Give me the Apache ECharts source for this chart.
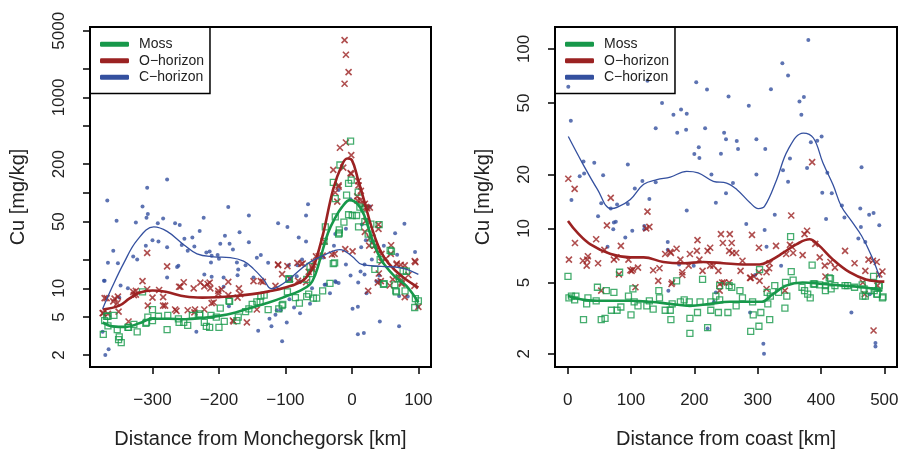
<!DOCTYPE html>
<html>
<head>
<meta charset="utf-8">
<script src="https://cdn.jsdelivr.net/npm/echarts@6/dist/echarts.min.js"></script>
<style>
  html, body { margin: 0; padding: 0; background: #fff; }
  #mainChart { width: 906px; height: 454px; }
</style>
</head>
<body>
<div id="mainChart"></div>
<script>
// tick values
var xTicksL = [-300, -200, -100, 0, 100];
var xTicksR = [0, 100, 200, 300, 400, 500];
var yTicksL = [2, 5, 10, 20, 50, 100, 200, 500, 1000, 2000, 5000];
var yLabelsL = [2, 5, 10, 50, 200, 1000, 5000];
var yTicksR = [2, 5, 10, 20, 50, 100];

// left panel: distance from Monchegorsk [km], Cu [mg/kg]
var cLeft = [[-373,12],[-375,3.5],[-371,2.0],[-366,2.3],[-372,12],[-367,18.6],[-368,83],[-359,24.7],[-354,51],[-352,18.3],[-350,8],[-348,10.7],[-337,10],[-329,21.5],[-325,49],[-323,20],[-315,72],[-310,28],[-309,55],[-308,113],[-307,60],[-300,32],[-292,48],[-291,31],[-284,54],[-278,138],[-278,27],[-278,13],[-266,48],[-263,16.7],[-261,17.2],[-259,46],[-256,28.5],[-252,33],[-247,24.7],[-240,34],[-237,27.4],[-234,3.5],[-229,40],[-223,55],[-222,14],[-219,23.7],[-214,24.3],[-212,18.7],[-211,22],[-211,13.2],[-202,22.4],[-200,20.4],[-198,29.4],[-193,13],[-193,10.4],[-191,35.6],[-186,71],[-185,6.5],[-184,29.4],[-179,25.5],[-173,18.7],[-172,13.7],[-171,15.8],[-169,38.6],[-160,17.5],[-155,58],[-155,30.4],[-148,13],[-143,20.9],[-141,3.6],[-137,22.4],[-126,18.5],[-124,4.8],[-121,4.0],[-115,5.3],[-113,5.9],[-111,48],[-107,5.9],[-105,2.8],[-98,4.4],[-97,44],[-95,17.5],[-94,7.7],[-93,12.5],[-87,6.3],[-83,13.4],[-82,17.5],[-80,34],[-78,5.5],[-77,11.8],[-75,20],[-69,58],[-69,31],[-66,76],[-63,6.9],[-60,10],[-43,21],[-41,10.9],[-39,11],[-33,8.9],[-27,28],[-25,37],[-25,11.9],[-24,11.6],[-20,107],[-20,11.4],[-9,42],[-9,17.8],[-2,86],[-2,13.6],[1,6.1],[9,6.4],[9,3.3],[9.5,11.5],[13,15],[14,27],[15,46.6],[18,3.4],[19,14],[19,17.8],[21,32],[22,8.9],[27,72],[30,20],[31,31],[37,11.9],[41,13.6],[42,12],[42,4.5],[48,28],[65,37.7],[68,22.5],[71,4.0],[71,8.3],[79,47.5],[84,8.2],[95,24],[99,6.4]];
var oLeft = [[-375,5.5],[-374,5.5],[-372,7.9],[-369,7.9],[-367,5.4],[-359,7.3],[-357,7.8],[-353,7.0],[-352,8.2],[-351,5.7],[-336,4.5],[-329,9.2],[-328,8.5],[-325,8.6],[-325,9.4],[-315,11.9],[-308,23.5],[-308,9.8],[-307,6.6],[-300,8],[-290,9.6],[-284,8.1],[-284,6.6],[-281,6.6],[-278,17],[-266,6.0],[-264,5.8],[-260,10.4],[-258,10.4],[-253,11.6],[-247,5.9],[-238,10],[-237,5.6],[-236,6.0],[-228,11.5],[-222,10.5],[-222,6.0],[-217,11.1],[-214,11.5],[-213,10],[-211,7.0],[-208,7.1],[-201,9.4],[-201,8.8],[-196,9.8],[-186,11.7],[-186,8.5],[-179,4.6],[-178,4.5],[-172,8.0],[-170,10],[-168,8.7],[-158,4.4],[-148,11.9],[-143,6.0],[-137,11.9],[-134,11.7],[-115,10.6],[-111,17.8],[-111,17.5],[-105,14.1],[-97,17.1],[-93,12.5],[-82,18.5],[-81,12],[-76,18],[-74,18.2],[-69,11.6],[-65,14.9],[-60,16.7],[-59,15.8],[-57,18.8],[-54,21.6],[-50,21.7],[-44,22],[-41,31],[-30,22.6],[-28,174],[-26,23],[-25,101],[-22,81],[-20,116],[-20,120],[-18,297],[-13,184],[-11,3990],[-11,1390],[-10,25.8],[-9,2800],[-9,337],[-5,1840],[-2,161],[-1,249],[-1,158],[1,24.4],[8,92],[8.5,83],[9.5,133],[10,120],[13,84],[13.5,105],[17.5,75],[19.5,77],[19.5,39],[21,51],[21.5,71],[23,69],[24.5,9.4],[26,28],[27,70],[27,33.6],[34.5,28],[37.5,25.3],[39,11.5],[40,46.5],[40,42],[40.5,14.3],[43.5,11.9],[44.5,23],[44.5,19],[51,20.4],[57,10.7],[58.5,23],[59,28.3],[61.5,12.4],[67,17.8],[67.5,18.2],[70.5,13.1],[73.5,17.6],[74.5,11.5],[75,11.1],[79.5,17.4],[79.5,8.1],[85,13.8],[94,10.6],[94.5,19.3],[95.5,18.8],[100,6.4]];
var mossLeft = [[-374,3.3],[-372,4.6],[-369,5.1],[-367,5.1],[-367,4.05],[-358,5.2],[-353,3.7],[-351,2.9],[-350,3.1],[-347,2.7],[-337,3.9],[-336,3.9],[-328,4.2],[-323,3.5],[-315,9.2],[-310,4.3],[-309,4.4],[-307,5.0],[-300,6.0],[-300,4.6],[-291,5.1],[-278,3.7],[-277,5.2],[-261,4.8],[-260,4.4],[-253,4.4],[-247,4.1],[-240,5.2],[-229,5.2],[-229,5.4],[-222,4.4],[-219,4.0],[-214,3.9],[-212,5.2],[-204,5.0],[-200,3.9],[-198,6.2],[-192,4.5],[-185,7.4],[-184,7.3],[-173,4.6],[-171,5.0],[-160,5.7],[-155,6.1],[-150,6.8],[-143,7.2],[-138,7.2],[-137,8.3],[-132,8.5],[-126,6.0],[-110,6.1],[-105,6.6],[-104,6.8],[-97,9.2],[-95,12.6],[-94,12.4],[-85,8],[-79,7],[-68,8.2],[-68,12.4],[-65,8.7],[-63,17],[-62,14.3],[-58,7.9],[-53,7.9],[-44,9.4],[-42,31],[-40,44],[-33,11.3],[-28,18.2],[-28,129],[-26,18.5],[-25,87],[-25,56],[-20,37],[-19,41],[-19,38],[-18,196],[-12,49.5],[-8,95],[-5,126],[-5,59],[-2,348],[-1,136],[0.5,58],[7,58],[9.5,102],[10,44],[12,71],[18,68],[19.5,50],[24.5,37],[28.5,47],[30.5,33.6],[32.5,29],[34.5,15.8],[41,46.5],[42.5,20],[47.5,11],[48.5,11.2],[57.5,25],[59.5,24.4],[64.5,10.9],[66,9.4],[67,9.2],[71.5,12.6],[77,15.2],[80,9.4],[82,15.1],[94.5,6.3],[95.5,7.8],[100,7.4]];

// left panel smoothers
var mossFitL = [[-375,4.4],[-360,4.0],[-340,3.95],[-320,4.3],[-300,4.8],[-275,4.8],[-250,4.75],[-225,4.9],[-200,5.15],[-175,5.6],[-150,6.3],[-125,7.1],[-100,8.2],[-80,9.3],[-63,11],[-55,14],[-48,20],[-36,38],[-25,55],[-15,71],[-3,84],[9,76],[19,57],[29,35],[44,20],[64,13.4],[82,10.6],[100,7.1]];
var oFitL = [[-375,6.0],[-350,6.6],[-335,7.8],[-320,9.0],[-300,9.5],[-280,9.2],[-250,8.2],[-225,8.0],[-200,8.1],[-175,8.3],[-150,8.7],[-125,9.3],[-100,10.2],[-75,11.9],[-62,15],[-55,19],[-43,38],[-28,110],[-15,196],[-7,229],[0,220],[9.5,136],[19.5,78],[29.5,44],[42,25.5],[54.5,18.5],[75,13.4],[100,10.2]];
var cFitL = [[-375,6.1],[-361,10.2],[-343,18.5],[-323,32],[-298,44],[-278,39.5],[-253,28.7],[-233,23],[-208,21.4],[-183,21],[-163,19.3],[-148,16],[-133,12.4],[-121,9.9],[-110,10.5],[-95,12.4],[-65,18.5],[-40,22.6],[-18,25.5],[0,21.7],[15,17.8],[44,17],[74,16.4],[100,14]];

// right panel: distance from coast [km]
var cRight = [[1,61.5],[5,39.8],[6,14.4],[19,19.5],[25,23.6],[26,20.2],[42,23.2],[48,11.7],[53,13.8],[56,19.8],[63,7.9],[68,12.9],[72,9.9],[73,10.8],[76,10.9],[78,13.6],[91,8.9],[95,22.7],[95,13.7],[102,9.7],[106,16.7],[118,18.4],[121,10.3],[121,9.9],[126,66.4],[129,14.6],[139,36.2],[139,18.1],[149,50],[158,8.4],[158,7.6],[159,4.5],[167,43],[173,34.1],[176,6.3],[179,46],[187,35.5],[188,43.6],[188,12.6],[199,6.2],[200,26],[203,65.3],[207,28.3],[208,24.7],[217,36.1],[220,59.4],[221,2.77],[227,20],[231,3.9],[234,13.9],[234,4.4],[242,26.1],[247,34.1],[250,31.4],[250,15.7],[254,54.4],[261,17.9],[267,30.7],[269,27.7],[282,10.6],[286,48.3],[288,3.4],[296,5.5],[298,31.4],[298,20],[309,2.28],[310,2.0],[311,9.8],[312,27.7],[314,7.9],[321,59.6],[327,11.9],[337,6.2],[339,83.2],[340,21.1],[348,71.1],[348,18.2],[351,24.5],[366,51],[369,43],[373,54],[378,21.7],[380,112],[384,30.2],[394,30.8],[401,32.5],[402,15.8],[408,11.3],[410,20.4],[417,15.7],[433,13.4],[437,11.5],[448,3.4],[459,8.8],[462,12.9],[463,10.2],[464,21.9],[470,8.4],[476,11.9],[477,4.3],[483,12.2],[486,2.3],[486,2.2],[492,10.4]];
var oRight = [[1,18.9],[2,6.7],[11,16.6],[11.5,8.3],[24,6.6],[30,6.2],[31,6.7],[32,7.0],[45,8.7],[48,6.4],[53,4.5],[58,7.6],[62,10.4],[68,14.8],[73,6.7],[77,6.9],[81,5.55],[84,8.0],[96,6.7],[99,5.85],[101,5.8],[103,5.9],[107,4.7],[111,6.05],[124,10],[126,12.4],[129,10.2],[135,5.85],[143,5.1],[145,6.0],[154,7.2],[162,7.4],[163,7.3],[164,4.9],[165,5.0],[172,7.7],[178,6.7],[181,5.7],[181,5.5],[191,6.2],[193,7.2],[204,7.5],[205,8.6],[208,6.7],[213,5.8],[221,7.5],[225,6.2],[225,7.8],[230,6.2],[238,5.8],[240,4.9],[240,4.5],[242,9.3],[244,5.0],[245,8.3],[247,5.0],[255,7.5],[255,5.0],[256,9.3],[259,8.3],[260,7.3],[266,7.3],[273,5.8],[276,6.6],[288,5.3],[289,5.3],[291,9.2],[294,5.4],[302,7.8],[303,5.1],[302,5.7],[314,5.7],[314,4.6],[318,6.0],[319,6.4],[329,8.0],[343,4.5],[345,7.2],[351,8.1],[353,11.8],[354,7.9],[356,7.3],[371,7.1],[374,9.3],[378,9.7],[386,23.4],[391,8.2],[398,6.9],[406,6.2],[407,5.4],[415,6.5],[422,6.05],[438,7.5],[453,6.4],[466,5.0],[469,4.3],[470,5.8],[475,6.7],[482,6.6],[483,2.7],[488,6.5],[489,4.8],[492,5.55],[497,5.75]];
var mossRight = [[0.5,5.4],[2,4.1],[6,4.2],[11,4.0],[13,4.2],[25,3.1],[30,3.8],[32,4.1],[45,3.95],[47,4.7],[53,3.1],[59,3.15],[61,4.5],[69,3.5],[73,4.4],[78,3.5],[82,5.7],[84,3.65],[96,4.2],[100,3.3],[103,4.6],[105,3.9],[111,3.7],[125,3.7],[129,3.95],[135,3.55],[144,4.5],[145,4.1],[154,3.5],[162,3.5],[163,3.1],[165,3.8],[172,5.1],[178,3.9],[184,4.0],[192,3.9],[193,3.15],[193,2.6],[205,3.4],[209,3.9],[213,5.2],[221,2.8],[226,3.5],[226,3.9],[234,4.2],[238,3.4],[240,4.0],[240,4.8],[253,3.4],[255,4.8],[259,4.7],[266,3.7],[272,4.5],[276,4.1],[289,2.67],[292,3.9],[293,3.3],[302,2.85],[303,5.9],[305,3.4],[315,4.4],[316,3.8],[319,3.1],[320,4.2],[327,4.8],[333,4.4],[343,3.6],[344,5.0],[346,4.2],[352,9.0],[353,5.75],[356,5.15],[370,4.7],[374,4.5],[379,4.3],[383,4.1],[386,6.25],[388,4.9],[390,4.9],[398,4.85],[407,4.8],[407,4.5],[413,5.3],[415,5.25],[416,4.6],[422,4.8],[438,4.8],[442,4.8],[453,4.7],[465,4.85],[466,4.2],[468,4.6],[470,4.2],[476,4.5],[483,5.4],[484,4.5],[488,4.3],[489,4.3],[491,4.85],[492,4.8],[497,4.1],[498,4.15]];

// right panel smoothers
var mossFitR = [[0.5,4.2],[26,4.0],[57,3.95],[99,3.95],[130,3.9],[162,3.8],[193,3.7],[225,3.8],[256,3.9],[288,3.9],[306,3.9],[324,4.3],[345,4.8],[371,5.0],[403,4.9],[434,4.8],[466,4.7],[497,4.5]];
var oFitR = [[0.5,11],[15,9.5],[36,8.15],[68,7.2],[99,6.9],[120,6.9],[151,6.5],[183,6.4],[214,6.5],[246,6.4],[277,6.3],[303,6.3],[319,6.6],[340,7.3],[361,8.15],[382,8.7],[395,8.15],[419,6.7],[445,5.7],[471,5.2],[500,5.05]];
var cFitR = [[1,32.5],[23,23.2],[47,16.5],[68,12.9],[78,13.1],[99,14.5],[120,17.6],[141,18.7],[162,19.3],[188,20.8],[206,20.4],[230,18.3],[251,17.9],[267,16.5],[288,13.9],[301,12.9],[311,13.3],[330,18.7],[348,27.5],[372,34],[388,31.9],[403,23.2],[419,17.5],[432,13.3],[448,11],[464,9.1],[480,7],[493,5.3]];

var GREEN = '#17984a';
var RED = '#9b2222';
var BLUE = '#34509f';
var FONT = 'Liberation Sans, Arial, Helvetica, sans-serif';
var CROSS = 'path://M0,0L10,10M10,0L0,10';

var myChart = echarts.init(document.getElementById('mainChart'));

function minusFmt(v) {
    return String(v).replace('-', '\u2212');
}

function makeX(idx, min, max, ticks, name) {
    return {
        gridIndex: idx,
        type: 'value',
        min: min,
        max: max,
        name: name,
        nameLocation: 'middle',
        nameGap: 62,
        nameTextStyle: { fontSize: 20, color: '#222', fontFamily: FONT },
        axisLine: { show: false, onZero: false },
        axisTick: { show: true, length: 7, customValues: ticks, lineStyle: { color: '#000', width: 1.5 } },
        axisLabel: { customValues: ticks, formatter: minusFmt, fontSize: 17, color: '#222', fontFamily: FONT, margin: 25 },
        splitLine: { show: false }
    };
}

function makeY(idx, min, max, ticks, labels) {
    return {
        gridIndex: idx,
        type: 'log',
        logBase: 10,
        min: min,
        max: max,
        name: 'Cu [mg/kg]',
        nameLocation: 'middle',
        nameGap: 62,
        nameTextStyle: { fontSize: 20, color: '#222', fontFamily: FONT },
        axisLine: { show: false, onZero: false },
        axisTick: { show: true, length: 7, customValues: ticks, lineStyle: { color: '#000', width: 1.5 } },
        axisLabel: { customValues: labels, rotate: 90, formatter: function (v) { return String(v); }, fontSize: 17, color: '#222', fontFamily: FONT, margin: 22 },
        splitLine: { show: false }
    };
}

function pts(name, data, idx, kind) {
    var s = { name: name, type: 'scatter', xAxisIndex: idx, yAxisIndex: idx, data: data, silent: true };
    if (kind == 'dot') {
        s.symbol = 'circle';
        s.symbolSize = 4;
        s.itemStyle = { color: BLUE };
    } else if (kind == 'cross') {
        s.symbol = CROSS;
        s.symbolSize = 6;
        s.itemStyle = { color: 'none', borderColor: RED, borderWidth: 1.6 };
    } else {
        s.symbol = 'rect';
        s.symbolSize = 6;
        s.itemStyle = { color: 'none', borderColor: GREEN, borderWidth: 1.3 };
    }
    return s;
}

function fit(name, data, idx, color, width) {
    return {
        name: name,
        type: 'line',
        xAxisIndex: idx,
        yAxisIndex: idx,
        data: data,
        smooth: 0.4,
        showSymbol: false,
        silent: true,
        z: 5,
        itemStyle: { color: color },
        lineStyle: { color: color, width: width }
    };
}

function makeLegend(left) {
    return {
        left: left,
        top: 27,
        orient: 'vertical',
        data: [
            { name: 'Moss', icon: 'roundRect' },
            { name: 'O\u2212horizon', icon: 'roundRect' },
            { name: 'C\u2212horizon', icon: 'roundRect' }
        ],
        itemWidth: 29,
        itemHeight: 5,
        itemGap: 0,
        padding: [9, 6, 8, 10],
        borderColor: '#000',
        borderWidth: 1.5,
        selectedMode: false,
        textStyle: { fontSize: 14, lineHeight: 16.5, color: '#222', fontFamily: FONT, padding: [0, 0, 0, 5] }
    };
}

var option = {
    animation: false,
    backgroundColor: '#fff',
    grid: [
        { left: 90, top: 27, width: 341, height: 341, show: true, borderColor: '#000', borderWidth: 2 },
        { left: 555, top: 27, width: 342, height: 341, show: true, borderColor: '#000', borderWidth: 2 }
    ],
    legend: [makeLegend(90), makeLegend(555)],
    xAxis: [
        makeX(0, -394, 119, xTicksL, 'Distance from Monchegorsk [km]'),
        makeX(1, -20, 520, xTicksR, 'Distance from coast [km]')
    ],
    yAxis: [
        makeY(0, 1.5, 5470, yTicksL, yLabelsL),
        makeY(1, 1.69, 132.5, yTicksR, yTicksR)
    ],
    series: [
        pts('C pts L', cLeft, 0, 'dot'),
        pts('O pts L', oLeft, 0, 'cross'),
        pts('Moss pts L', mossLeft, 0, 'rect'),
        fit('Moss', mossFitL, 0, GREEN, 2.6),
        fit('O\u2212horizon', oFitL, 0, RED, 2.6),
        fit('C\u2212horizon', cFitL, 0, BLUE, 1.3),
        pts('C pts R', cRight, 1, 'dot'),
        pts('O pts R', oRight, 1, 'cross'),
        pts('Moss pts R', mossRight, 1, 'rect'),
        fit('Moss', mossFitR, 1, GREEN, 2.6),
        fit('O\u2212horizon', oFitR, 1, RED, 2.6),
        fit('C\u2212horizon', cFitR, 1, BLUE, 1.3)
    ]
};

myChart.setOption(option);
</script>
</body>
</html>
